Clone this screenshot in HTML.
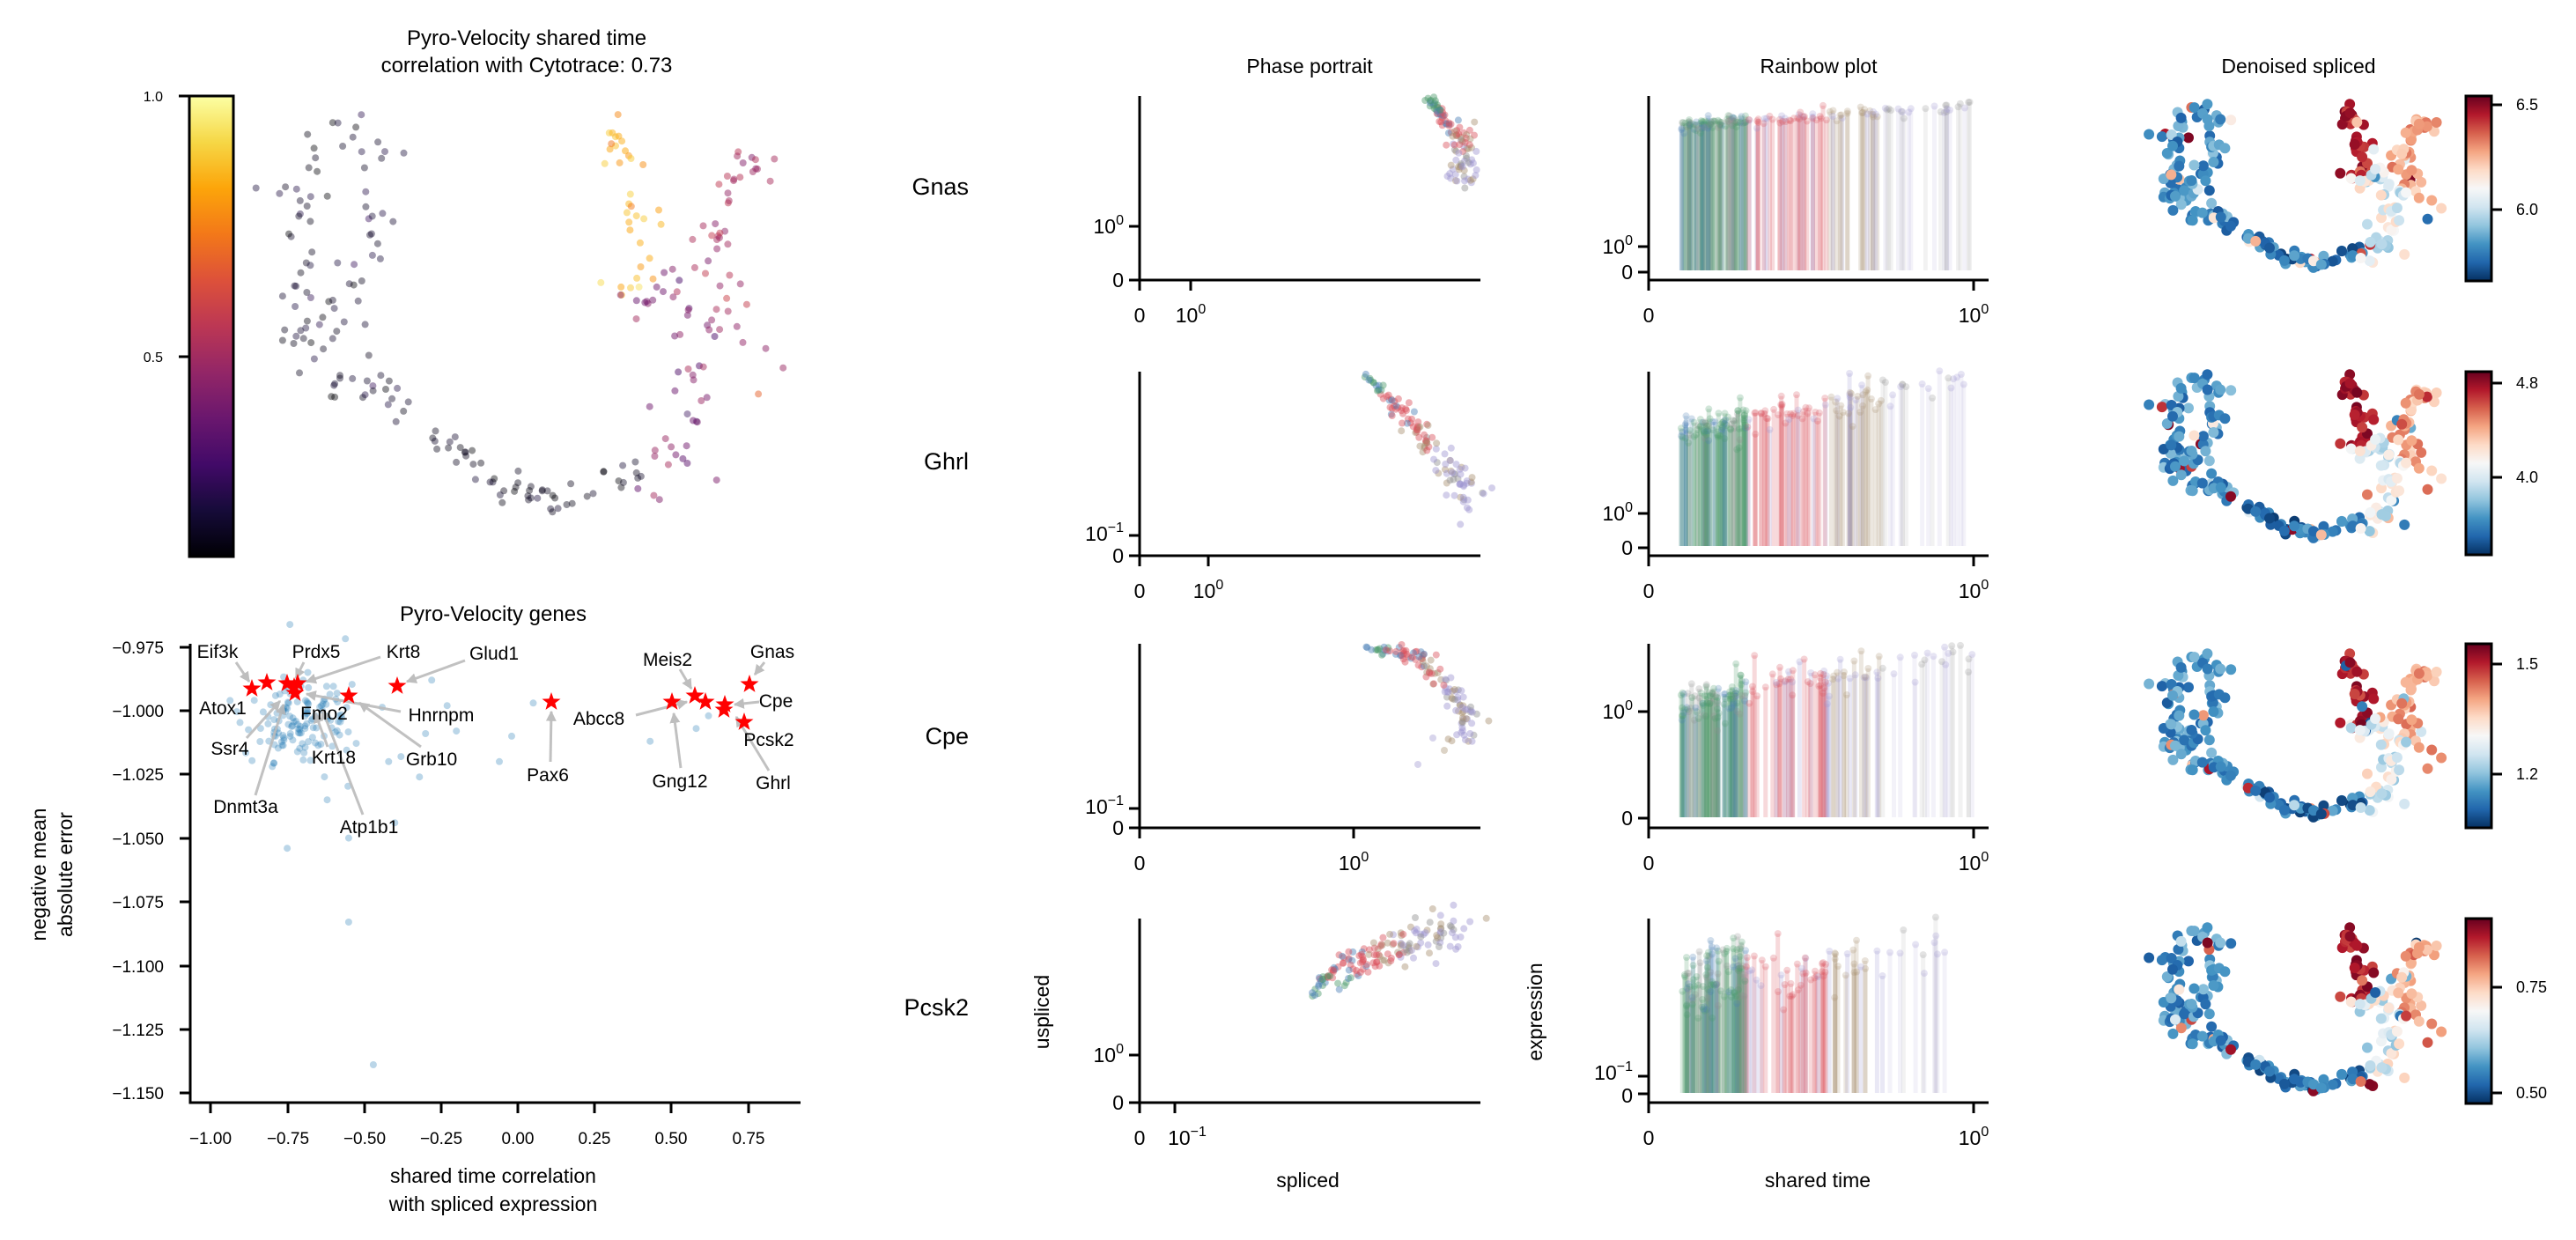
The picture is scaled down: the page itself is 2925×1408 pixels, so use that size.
<!DOCTYPE html>
<html><head><meta charset="utf-8"><style>
html,body{margin:0;padding:0;background:#fff;}
svg{display:block;}
text{font-family:"Liberation Sans",Arial,sans-serif;fill:#000;}
.dj{font-family:"DejaVu Sans","Liberation Sans",sans-serif;}
</style></head><body>
<svg id="s" width="2925" height="1408" viewBox="0 0 2925 1408" xmlns="http://www.w3.org/2000/svg">
<defs>
<linearGradient id="inf" x1="0" y1="1" x2="0" y2="0">
<stop offset="0" stop-color="#000004"/><stop offset="0.1" stop-color="#160b39"/><stop offset="0.2" stop-color="#420a68"/><stop offset="0.3" stop-color="#6a176e"/><stop offset="0.4" stop-color="#932667"/><stop offset="0.5" stop-color="#bc3754"/><stop offset="0.6" stop-color="#dd513a"/><stop offset="0.7" stop-color="#f37819"/><stop offset="0.8" stop-color="#fca50a"/><stop offset="0.9" stop-color="#f6d746"/><stop offset="1" stop-color="#fcffa4"/>
</linearGradient>
<linearGradient id="rdbu" x1="0" y1="1" x2="0" y2="0">
<stop offset="0" stop-color="#053061"/><stop offset="0.1" stop-color="#2166ac"/><stop offset="0.2" stop-color="#4393c3"/><stop offset="0.3" stop-color="#92c5de"/><stop offset="0.4" stop-color="#d1e5f0"/><stop offset="0.5" stop-color="#f7f7f7"/><stop offset="0.6" stop-color="#fddbc7"/><stop offset="0.7" stop-color="#f4a582"/><stop offset="0.8" stop-color="#d6604d"/><stop offset="0.9" stop-color="#b2182b"/><stop offset="1" stop-color="#67001f"/>
</linearGradient>
<marker id="ah" viewBox="0 0 10 10" refX="9" refY="5" markerWidth="4" markerHeight="4" orient="auto"><path d="M0,0L10,5L0,10z" fill="#b8b8b8"/></marker>
</defs>
<rect width="2925" height="1408" fill="#fff"/>
<g id="dots"></g>

<text x="598" y="51" font-size="24" text-anchor="middle">Pyro-Velocity shared time</text>
<text x="598" y="82" font-size="24" text-anchor="middle">correlation with Cytotrace: 0.73</text>
<rect x="215" y="109" width="50" height="523" fill="url(#inf)" stroke="#000" stroke-width="3"/>
<g stroke="#000" stroke-width="3"><line x1="203" y1="109" x2="215" y2="109"/><line x1="203" y1="405" x2="215" y2="405"/></g>
<text x="185" y="115" font-size="16" text-anchor="end">1.0</text>
<text x="185" y="411" font-size="16" text-anchor="end">0.5</text>

<text x="560" y="705" font-size="24" text-anchor="middle">Pyro-Velocity genes</text>
<g stroke="#000" stroke-width="3" fill="none">
<polyline points="216,731 216,1252 909,1252"/>
<line x1="204" y1="735" x2="216" y2="735"/><line x1="204" y1="807" x2="216" y2="807"/><line x1="204" y1="879" x2="216" y2="879"/><line x1="204" y1="952" x2="216" y2="952"/><line x1="204" y1="1024" x2="216" y2="1024"/><line x1="204" y1="1097" x2="216" y2="1097"/><line x1="204" y1="1169" x2="216" y2="1169"/><line x1="204" y1="1241" x2="216" y2="1241"/>
<line x1="239" y1="1252" x2="239" y2="1264"/><line x1="327" y1="1252" x2="327" y2="1264"/><line x1="414" y1="1252" x2="414" y2="1264"/><line x1="501" y1="1252" x2="501" y2="1264"/><line x1="588" y1="1252" x2="588" y2="1264"/><line x1="675" y1="1252" x2="675" y2="1264"/><line x1="762" y1="1252" x2="762" y2="1264"/><line x1="850" y1="1252" x2="850" y2="1264"/>
</g>
<g font-size="19" text-anchor="end">
<text x="186" y="742">−0.975</text><text x="186" y="814">−1.000</text><text x="186" y="886">−1.025</text><text x="186" y="959">−1.050</text><text x="186" y="1031">−1.075</text><text x="186" y="1104">−1.100</text><text x="186" y="1176">−1.125</text><text x="186" y="1248">−1.150</text>
</g>
<g font-size="19" text-anchor="middle">
<text x="239" y="1299">−1.00</text><text x="327" y="1299">−0.75</text><text x="414" y="1299">−0.50</text><text x="501" y="1299">−0.25</text><text x="588" y="1299">0.00</text><text x="675" y="1299">0.25</text><text x="762" y="1299">0.50</text><text x="850" y="1299">0.75</text>
</g>
<text x="560" y="1343" font-size="23" text-anchor="middle">shared time correlation</text>
<text x="560" y="1375" font-size="23" text-anchor="middle">with spliced expression</text>
<text transform="translate(52,993) rotate(-90)" font-size="23" text-anchor="middle">negative mean</text>
<text transform="translate(82,993) rotate(-90)" font-size="23" text-anchor="middle">absolute error</text>
<g stroke="#bbb" stroke-width="3" marker-end="url(#ah)" opacity="0.9">
<line x1="268" y1="752" x2="283" y2="774"/>
<line x1="345" y1="752" x2="336" y2="770"/>
<line x1="432" y1="746" x2="348" y2="774"/>
<line x1="528" y1="750" x2="462" y2="774"/>
<line x1="455" y1="808" x2="348" y2="788"/>
<line x1="280" y1="838" x2="318" y2="796"/>
<line x1="372" y1="848" x2="358" y2="810"/>
<line x1="478" y1="848" x2="408" y2="798"/>
<line x1="290" y1="903" x2="322" y2="800"/>
<line x1="412" y1="925" x2="366" y2="806"/>
<line x1="625" y1="865" x2="626" y2="808"/>
<line x1="772" y1="760" x2="785" y2="782"/>
<line x1="868" y1="752" x2="857" y2="766"/>
<line x1="862" y1="797" x2="834" y2="800"/>
<line x1="722" y1="812" x2="780" y2="797"/>
<line x1="773" y1="872" x2="765" y2="810"/>
<line x1="873" y1="875" x2="836" y2="814"/>
</g>
<g id="stars"></g>
<g font-size="21" text-anchor="middle">
<text x="247" y="747">Eif3k</text><text x="359" y="747">Prdx5</text><text x="458" y="747">Krt8</text><text x="561" y="749">Glud1</text>
<text x="253" y="811">Atox1</text><text x="368" y="817">Fmo2</text><text x="501" y="819">Hnrnpm</text>
<text x="261" y="857">Ssr4</text><text x="379" y="867">Krt18</text><text x="490" y="869">Grb10</text>
<text x="279" y="923">Dnmt3a</text><text x="419" y="946">Atp1b1</text><text x="622" y="887">Pax6</text>
<text x="758" y="756">Meis2</text><text x="877" y="747">Gnas</text><text x="881" y="803">Cpe</text>
<text x="680" y="823">Abcc8</text><text x="873" y="847">Pcsk2</text><text x="772" y="894">Gng12</text><text x="878" y="896">Ghrl</text>
</g>

<text x="1487" y="83" font-size="23" text-anchor="middle">Phase portrait</text>
<text x="2065" y="83" font-size="23" text-anchor="middle">Rainbow plot</text>
<text x="2610" y="83" font-size="23" text-anchor="middle">Denoised spliced</text>
<g font-size="27" text-anchor="end">
<text x="1100" y="221">Gnas</text><text x="1100" y="533">Ghrl</text><text x="1100" y="845">Cpe</text><text x="1100" y="1153">Pcsk2</text>
</g>

<g stroke="#000" stroke-width="3" fill="none">
<polyline points="1294,109 1294,318 1681,318"/><polyline points="1294,422 1294,631 1681,631"/><polyline points="1294,731 1294,940 1681,940"/><polyline points="1294,1043 1294,1252 1681,1252"/>
<line x1="1282" y1="257" x2="1294" y2="257"/><line x1="1282" y1="318" x2="1294" y2="318"/><line x1="1294" y1="318" x2="1294" y2="330"/><line x1="1352" y1="318" x2="1352" y2="330"/>
<line x1="1282" y1="608" x2="1294" y2="608"/><line x1="1282" y1="631" x2="1294" y2="631"/><line x1="1294" y1="631" x2="1294" y2="643"/><line x1="1372" y1="631" x2="1372" y2="643"/>
<line x1="1282" y1="918" x2="1294" y2="918"/><line x1="1282" y1="940" x2="1294" y2="940"/><line x1="1294" y1="940" x2="1294" y2="952"/><line x1="1537" y1="940" x2="1537" y2="952"/>
<line x1="1282" y1="1198" x2="1294" y2="1198"/><line x1="1282" y1="1252" x2="1294" y2="1252"/><line x1="1294" y1="1252" x2="1294" y2="1264"/><line x1="1334" y1="1252" x2="1334" y2="1264"/>
<polyline points="1872,109 1872,318 2258,318"/><polyline points="1872,422 1872,631 2258,631"/><polyline points="1872,731 1872,940 2258,940"/><polyline points="1872,1043 1872,1252 2258,1252"/>
<line x1="1860" y1="280" x2="1872" y2="280"/><line x1="1860" y1="309" x2="1872" y2="309"/><line x1="1872" y1="318" x2="1872" y2="330"/><line x1="2241" y1="318" x2="2241" y2="330"/>
<line x1="1860" y1="583" x2="1872" y2="583"/><line x1="1860" y1="622" x2="1872" y2="622"/><line x1="1872" y1="631" x2="1872" y2="643"/><line x1="2241" y1="631" x2="2241" y2="643"/>
<line x1="1860" y1="808" x2="1872" y2="808"/><line x1="1860" y1="929" x2="1872" y2="929"/><line x1="1872" y1="940" x2="1872" y2="952"/><line x1="2241" y1="940" x2="2241" y2="952"/>
<line x1="1860" y1="1222" x2="1872" y2="1222"/><line x1="1860" y1="1242" x2="1872" y2="1242"/><line x1="1872" y1="1252" x2="1872" y2="1264"/><line x1="2241" y1="1252" x2="2241" y2="1264"/>
</g>
<g class="dj" font-size="23">
<text x="1276" y="265" text-anchor="end">10<tspan dy="-10" font-size="16">0</tspan></text>
<text x="1276" y="326" text-anchor="end">0</text>
<text x="1294" y="366" text-anchor="middle">0</text>
<text x="1352" y="366" text-anchor="middle">10<tspan dy="-10" font-size="16">0</tspan></text>
<text x="1276" y="614" text-anchor="end">10<tspan dy="-10" font-size="16">−1</tspan></text>
<text x="1276" y="639" text-anchor="end">0</text>
<text x="1294" y="679" text-anchor="middle">0</text>
<text x="1372" y="679" text-anchor="middle">10<tspan dy="-10" font-size="16">0</tspan></text>
<text x="1276" y="924" text-anchor="end">10<tspan dy="-10" font-size="16">−1</tspan></text>
<text x="1276" y="948" text-anchor="end">0</text>
<text x="1294" y="988" text-anchor="middle">0</text>
<text x="1537" y="988" text-anchor="middle">10<tspan dy="-10" font-size="16">0</tspan></text>
<text x="1276" y="1206" text-anchor="end">10<tspan dy="-10" font-size="16">0</tspan></text>
<text x="1276" y="1260" text-anchor="end">0</text>
<text x="1294" y="1300" text-anchor="middle">0</text>
<text x="1348" y="1300" text-anchor="middle">10<tspan dy="-10" font-size="16">−1</tspan></text>

<text x="1854" y="288" text-anchor="end">10<tspan dy="-10" font-size="16">0</tspan></text>
<text x="1854" y="317" text-anchor="end">0</text>
<text x="1872" y="366" text-anchor="middle">0</text>
<text x="2241" y="366" text-anchor="middle">10<tspan dy="-10" font-size="16">0</tspan></text>
<text x="1854" y="591" text-anchor="end">10<tspan dy="-10" font-size="16">0</tspan></text>
<text x="1854" y="630" text-anchor="end">0</text>
<text x="1872" y="679" text-anchor="middle">0</text>
<text x="2241" y="679" text-anchor="middle">10<tspan dy="-10" font-size="16">0</tspan></text>
<text x="1854" y="816" text-anchor="end">10<tspan dy="-10" font-size="16">0</tspan></text>
<text x="1854" y="937" text-anchor="end">0</text>
<text x="1872" y="988" text-anchor="middle">0</text>
<text x="2241" y="988" text-anchor="middle">10<tspan dy="-10" font-size="16">0</tspan></text>
<text x="1854" y="1226" text-anchor="end">10<tspan dy="-10" font-size="16">−1</tspan></text>
<text x="1854" y="1252" text-anchor="end">0</text>
<text x="1872" y="1300" text-anchor="middle">0</text>
<text x="2241" y="1300" text-anchor="middle">10<tspan dy="-10" font-size="16">0</tspan></text>
</g>
<text x="1485" y="1348" font-size="23" text-anchor="middle">spliced</text>
<text x="2064" y="1348" font-size="23" text-anchor="middle">shared time</text>
<text transform="translate(1191,1149) rotate(-90)" font-size="23" text-anchor="middle">uspliced</text>
<text transform="translate(1751,1149) rotate(-90)" font-size="23" text-anchor="middle">expression</text>

<g stroke="#000" stroke-width="3">
<rect x="2800" y="109" width="29" height="210" fill="url(#rdbu)"/>
<rect x="2800" y="422" width="29" height="208" fill="url(#rdbu)"/>
<rect x="2800" y="731" width="29" height="209" fill="url(#rdbu)"/>
<rect x="2800" y="1043" width="29" height="210" fill="url(#rdbu)"/>
<line x1="2829" y1="119" x2="2841" y2="119"/><line x1="2829" y1="238" x2="2841" y2="238"/>
<line x1="2829" y1="435" x2="2841" y2="435"/><line x1="2829" y1="542" x2="2841" y2="542"/>
<line x1="2829" y1="754" x2="2841" y2="754"/><line x1="2829" y1="879" x2="2841" y2="879"/>
<line x1="2829" y1="1121" x2="2841" y2="1121"/><line x1="2829" y1="1241" x2="2841" y2="1241"/>
</g>
<g font-size="18">
<text x="2857" y="125">6.5</text><text x="2857" y="244">6.0</text>
<text x="2857" y="441">4.8</text><text x="2857" y="548">4.0</text>
<text x="2857" y="760">1.5</text><text x="2857" y="885">1.2</text>
<text x="2857" y="1127">0.75</text><text x="2857" y="1247">0.50</text>
</g>
</svg>
<script>
(function(){
var seed=12345;function rnd(){seed|=0;seed=seed+0x6D2B79F5|0;var t=Math.imul(seed^seed>>>15,1|seed);t=t+Math.imul(t^t>>>7,61|t)^t;return((t^t>>>14)>>>0)/4294967296;}
function gauss(){var u=rnd()||1e-9,v=rnd();return Math.sqrt(-2*Math.log(u))*Math.cos(6.2832*v);}
function hex(h){return[parseInt(h.substr(1,2),16),parseInt(h.substr(3,2),16),parseInt(h.substr(5,2),16)];}
function cmap(st,v){v=Math.max(0,Math.min(1,v));var n=st.length-1,i=Math.min(n-1,Math.floor(v*n)),f=v*n-i;var a=hex(st[i]),b=hex(st[i+1]);return"rgb("+a.map(function(x,k){return Math.round(x+(b[k]-x)*f);}).join(",")+")";}
var INF=["#000004","#160b39","#420a68","#6a176e","#932667","#bc3754","#dd513a","#f37819","#fca50a","#f6d746","#fcffa4"];
var RB=["#053061","#2166ac","#4393c3","#92c5de","#d1e5f0","#f7f7f7","#fddbc7","#f4a582","#d6604d","#b2182b","#67001f"];
var G=document.getElementById("dots"),out=[];
function c(x,y,r,f,o){out.push('<circle cx="'+x.toFixed(1)+'" cy="'+y.toFixed(1)+'" r="'+r+'" fill="'+f+'" fill-opacity="'+o+'"/>');}
function along(pts){var L=[],tot=0;for(var i=1;i<pts.length;i++){var d=Math.hypot(pts[i][0]-pts[i-1][0],pts[i][1]-pts[i-1][1]);L.push(d);tot+=d;}var s0=rnd()*tot,s=s0;for(i=0;i<L.length;i++){if(s<=L[i]){var f=s/L[i];return[pts[i][0]+(pts[i+1][0]-pts[i][0])*f,pts[i][1]+(pts[i+1][1]-pts[i][1])*f,s0/tot];}s-=L[i];}return[pts[pts.length-1][0],pts[pts.length-1][1],1];}
var CL=[
{p:[[0.14,0.0],[0.08,0.05],[0.05,0.2],[0.04,0.35],[0.06,0.5],[0.1,0.6],[0.2,0.65],[0.28,0.72]],n:70,s:0.028,cy:0.06,cs:0.04,cd:[0.08,0.3]},
{p:[[0.14,0.0],[0.2,0.1],[0.21,0.3],[0.15,0.42],[0.12,0.5]],n:30,s:0.025,cy:0.08,cs:0.04,cd:[0.1,0.3]},
{p:[[0.33,0.78],[0.45,0.85],[0.55,0.92],[0.65,0.9],[0.7,0.85]],n:55,s:0.022,cy:0.04,cs:0.03,cd:[0.02,0.25]},
{p:[[0.68,0.0],[0.71,0.15],[0.72,0.3],[0.70,0.42]],n:35,s:0.02,cy:0.82,cs:0.06,cd:[0.82,0.98]},
{p:[[0.97,0.1],[0.92,0.14],[0.88,0.3],[0.9,0.45],[0.94,0.6],[0.98,0.6]],n:45,s:0.03,cy:0.45,cs:0.06,cd:[0.6,0.78]},
{p:[[0.72,0.45],[0.78,0.4],[0.85,0.55],[0.83,0.75],[0.78,0.88],[0.72,0.9]],n:50,s:0.035,cy:0.35,cs:0.07,cd:[0.3,0.62]}];
var P=[];CL.forEach(function(k){for(var i=0;i<k.n;i++){var a=along(k.p);P.push({u:a[0]+gauss()*k.s,v:a[1]+gauss()*k.s,cy:k.cy+gauss()*k.cs,cd:k.cd});}});
P.forEach(function(q){c(314+q.u*566,132+q.v*474,4,cmap(INF,q.cy),q.cy<0.2?0.42:0.5);});
[119,426,743,1054].forEach(function(t){P.forEach(function(q){var v=q.cd[0]+rnd()*(q.cd[1]-q.cd[0]);if(rnd()<0.12)v=rnd();c(2453+q.u*314,t+q.v*195,6,cmap(RB,v),1);});});
var COL=["#4c9a6a","#4a7fb5","#d9505a","#a89070","#9d95d0","#909090"];
function colAt(f){if(f<0.15)return rnd()<0.7?COL[0]:COL[1];if(f<0.4)return rnd()<0.6?COL[2]:COL[1];if(f<0.6)return rnd()<0.5?COL[3]:COL[2];return rnd()<0.6?COL[4]:(rnd()<0.5?COL[3]:COL[5]);}
var PH=[
{p:[[1622,112],[1640,137],[1660,155],[1662,185],[1660,212]],n:110},
{p:[[1550,427],[1580,455],[1610,490],[1640,520],[1660,545],[1665,580]],n:120},
{p:[[1548,736],[1580,740],[1610,745],[1640,770],[1660,800],[1665,840]],n:120},
{p:[[1489,1132],[1510,1105],[1540,1085],[1580,1070],[1620,1058],[1667,1045]],n:100},
{p:[[1522,1122],[1540,1100],[1580,1085],[1620,1075],[1650,1070]],n:60}];
PH.forEach(function(k){for(var i=0;i<k.n;i++){var a=along(k.p),s=2+a[2]*9;c(a[0]+gauss()*s,a[1]+gauss()*s,4,colAt(a[2]),0.45);}});
c(1627,838,4,COL[4],0.4);c(1610,868,4,COL[4],0.4);c(1640,852,4,COL[3],0.4);
var RW=[{b:307,y0:143,y1:120,j:4},{b:620,y0:489,y1:431,j:10},{b:928,y0:800,y1:741,j:12},{b:1241,y0:1140,y1:1058,j:14}];
RW.forEach(function(r,ri){var pts=[];for(var i=0;i<170;i++){var z=rnd(),t;if(z<0.5)t=0.1+rnd()*0.2;else if(z<0.75)t=0.3+rnd()*0.25;else if(z<0.9)t=0.55+rnd()*0.2;else t=0.75+rnd()*0.25;
var col=t<0.3?(rnd()<0.55?COL[0]:(rnd()<0.5?COL[5]:COL[1])):t<0.55?(rnd()<0.7?COL[2]:COL[4]):t<0.72?(rnd()<0.6?COL[3]:COL[4]):(rnd()<0.7?COL[4]:COL[5]);
var x=1872+t*369,y=r.y0+(r.y1-r.y0)*(t-0.1)/0.9+gauss()*r.j;if(ri==3&&t<0.4&&rnd()<0.5)y-=35;
out.push('<line x1="'+x.toFixed(1)+'" y1="'+r.b+'" x2="'+x.toFixed(1)+'" y2="'+y.toFixed(1)+'" stroke="'+col+'" stroke-opacity="'+(t>0.72?0.12:0.22)+'" stroke-width="5"/>');pts.push([x,y,col]);}
pts.forEach(function(p){c(p[0],p[1],4,p[2],0.25);});});
function BX(x){return 588+x*349.2;}function BY(y){return 807-(y+1)*2892;}
for(var i=0;i<140;i++){var x=-0.7+gauss()*0.09,y=-1.003+gauss()*0.009;c(BX(x),BY(y),4,"#1f77b4",0.3);}
[[-0.47,-1.139],[-0.55,-1.083],[-0.75,-1.054],[-0.55,-1.05],[-0.4,-1.044],[-0.32,-1.026],[-0.2,-1.008],[-0.02,-1.01],[0.05,-0.997],[0.43,-1.012],[0.58,-1.007],[0.62,-1.002],[-0.28,-0.988],[-0.23,-0.998],[-0.06,-1.02],[-0.62,-1.035],[-0.38,-1.018],[-0.42,-1.02],[-0.3,-1.009]].forEach(function(p){c(BX(p[0]),BY(p[1]),4,"#1f77b4",0.3);});
G.innerHTML=out.join("");
var S=[[286,782],[303,775],[326,776],[334,780],[335,787],[338,776],[396,790],[451,779],[626,797],[763,797],[789,790],[801,797],[823,800],[822,806],[851,777],[845,820]],so=[];
S.forEach(function(p){var d="";for(var k=0;k<10;k++){var r=k%2?4.5:11,a=-Math.PI/2+k*Math.PI/5;d+=(k?"L":"M")+(p[0]+r*Math.cos(a)).toFixed(1)+","+(p[1]+r*Math.sin(a)).toFixed(1);}so.push('<path d="'+d+'Z" fill="#ff0000"/>');});
document.getElementById("stars").innerHTML=so.join("");
})();
</script>
</body></html>
